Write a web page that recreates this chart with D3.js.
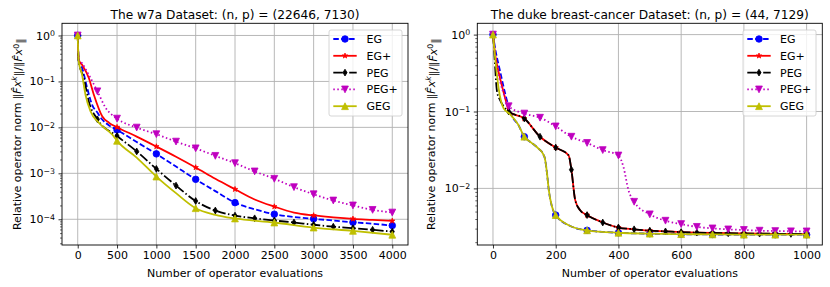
<!DOCTYPE html>
<html><head><meta charset="utf-8">
<script src="https://cdn.jsdelivr.net/npm/d3@7/dist/d3.min.js"></script>
<style>
body{margin:0;background:#fff}
svg{display:block}
text{font-family:"DejaVu Sans",sans-serif;fill:#000}
</style>
</head><body>
<svg id="chart" width="830" height="287"></svg>
<script>
// ---------------- DATA ----------------
const seriesNames = ["EG", "EG+", "PEG", "PEG+", "GEG"];

// w7a dataset (left panel)
const w7aXTicks = [0, 500, 1000, 1500, 2000, 2500, 3000, 3500, 4000];
const w7aYTicks = [1e-4, 1e-3, 1e-2, 1e-1, 1];
const w7aEGx  = [0, 12, 55, 119, 183, 250, 311, 400, 500, 750, 1000, 1250, 1500, 1750, 2000, 2250, 2500, 2750, 3000, 3250, 3500, 3750, 4000];
const w7aEGy  = [1, 0.29, 0.2, 0.073, 0.031, 0.021, 0.0148, 0.011, 0.0088, 0.0048, 0.00265, 0.0014, 0.00074, 0.00041, 0.00023, 0.000165, 0.000129, 0.000112, 0.000102, 0.000094, 0.000086, 0.00008, 0.000073];
const w7aEGPx = [0, 12, 55, 140, 204, 311, 400, 500, 750, 1000, 1250, 1500, 1750, 2000, 2250, 2500, 2750, 3000, 3250, 3500, 3750, 4000];
const w7aEGPy = [1, 0.3, 0.23, 0.12, 0.052, 0.0175, 0.0125, 0.0101, 0.0063, 0.00383, 0.0023, 0.00134, 0.00076, 0.00045, 0.00027, 0.000189, 0.00014, 0.000121, 0.00011, 0.000102, 0.000097, 0.000092];
const w7aPEGx = [0, 12, 77, 140, 250, 500, 750, 1000, 1250, 1500, 1750, 2000, 2250, 2500, 2750, 3000, 3250, 3500, 3750, 4000];
const w7aPEGy = [1, 0.27, 0.12, 0.037, 0.015, 0.0065, 0.003, 0.00125, 0.00054, 0.00025, 0.000155, 0.00012, 0.000105, 0.000094, 0.000085, 0.000076, 0.000069, 0.000064, 0.000059, 0.000054];
const w7aPEGPx = [0, 12, 55, 140, 250, 353, 500, 750, 1000, 1250, 1500, 1750, 2000, 2250, 2500, 2750, 3000, 3250, 3500, 3750, 4000];
const w7aPEGPy = [1, 0.3, 0.25, 0.14, 0.061, 0.027, 0.0155, 0.0099, 0.0071, 0.0049, 0.0035, 0.0024, 0.00166, 0.0011, 0.00076, 0.0005, 0.00035, 0.000256, 0.0002, 0.00016, 0.00014];
const w7aGEGx = [0, 12, 55, 98, 162, 268, 438, 500, 750, 1000, 1250, 1500, 1750, 2000, 2500, 3000, 3500, 4000];
const w7aGEGy = [1, 0.28, 0.14, 0.052, 0.0225, 0.0126, 0.007, 0.0051, 0.0022, 0.00085, 0.00037, 0.000174, 0.000125, 0.000104, 0.000085, 0.000066, 0.000056, 0.000046];

// duke breast-cancer dataset (right panel)
const dukeXTicks = [0, 200, 400, 600, 800, 1000];
const dukeYTicks = [1e-2, 1e-1, 1];
const dukeEGx  = [0, 7, 23, 39, 50, 60, 80, 100, 120, 145, 160, 166, 172, 178, 188, 200, 250, 300, 400, 500, 600, 700, 800, 900, 1000];
const dukeEGy  = [1, 0.66, 0.33, 0.17, 0.116, 0.088, 0.068, 0.047, 0.04, 0.033, 0.028, 0.024, 0.016, 0.0095, 0.0058, 0.0045, 0.0032, 0.00285, 0.00265, 0.00258, 0.00254, 0.00252, 0.0025, 0.0025, 0.0025];
const dukeEGPx = [0, 7, 20, 35, 45, 50, 100, 150, 200, 241, 250, 262, 278, 300, 350, 400, 450, 500, 550, 600, 650, 700, 750, 800, 850, 900, 950, 1000];
const dukeEGPy = [1, 0.55, 0.3, 0.17, 0.12, 0.1, 0.081, 0.047, 0.034, 0.027, 0.0175, 0.0071, 0.0052, 0.0045, 0.0036, 0.0031, 0.00294, 0.00282, 0.00276, 0.0027, 0.00266, 0.00263, 0.00261, 0.0026, 0.00258, 0.00257, 0.00256, 0.00255];
const dukePEGx = [0, 4, 7, 13, 23, 39, 50, 100, 150, 200, 241, 250, 262, 278, 300, 350, 400, 450, 500, 550, 600, 650, 700, 750, 800, 850, 900, 950, 1000];
const dukePEGy = [1, 0.6, 0.37, 0.18, 0.14, 0.11, 0.1, 0.081, 0.047, 0.034, 0.027, 0.0175, 0.0071, 0.0052, 0.0045, 0.0036, 0.0031, 0.00294, 0.00282, 0.00276, 0.0027, 0.00266, 0.00263, 0.00261, 0.0026, 0.00258, 0.00257, 0.00256, 0.00255];
const dukePEGPx = [0, 8, 23, 39, 50, 100, 150, 200, 250, 300, 350, 400, 416, 432, 450, 500, 550, 600, 650, 700, 750, 800, 850, 900, 950, 1000];
const dukePEGPy = [1, 0.5, 0.245, 0.15, 0.117, 0.094, 0.083, 0.064, 0.047, 0.039, 0.0315, 0.0268, 0.019, 0.0095, 0.0067, 0.0046, 0.0038, 0.00344, 0.00316, 0.00302, 0.00293, 0.00288, 0.00282, 0.00279, 0.00277, 0.00276];
const dukeGEGx = [0, 8, 18, 34, 55, 80, 100, 120, 145, 160, 166, 172, 178, 188, 200, 250, 300, 400, 500, 600, 700, 800, 900, 1000];
const dukeGEGy = [1, 0.45, 0.2, 0.11, 0.092, 0.068, 0.047, 0.04, 0.033, 0.028, 0.024, 0.016, 0.0095, 0.0058, 0.0045, 0.0032, 0.00285, 0.00265, 0.00258, 0.00254, 0.00252, 0.0025, 0.0025, 0.0025];

// ---------------- STYLES ----------------
const styles = {
  "EG":   {color: "#0000ff", dash: "5.5,2.4", marker: "circle"},
  "EG+":  {color: "#ff0000", dash: null, marker: "star"},
  "PEG":  {color: "#000000", dash: "9.6,2.4,1.5,2.4", marker: "thin_diamond"},
  "PEG+": {color: "#bf00bf", dash: "1.5,2.5", marker: "tri_down"},
  "GEG":  {color: "#bfbf00", dash: null, marker: "tri_up"}
};

function markerPath(kind) {
  const r = 3.4;
  switch (kind) {
    case "circle": return d3.symbol(d3.symbolCircle, Math.PI * 3.3 * 3.3)();
    case "tri_up": return `M0,${-r}L${r},${r}L${-r},${r}Z`;
    case "tri_down": return `M0,${r}L${r},${-r}L${-r},${-r}Z`;
    case "thin_diamond": return `M0,${-r}L${r*0.6},0L0,${r}L${-r*0.6},0Z`;
    case "star": {
      let p = []; const ro = 2.8, ri = ro * 0.381966;
      for (let i = 0; i < 10; i++) {
        const a = -Math.PI / 2 + i * Math.PI / 5;
        const rr = i % 2 === 0 ? ro : ri;
        p.push([rr * Math.cos(a), rr * Math.sin(a)]);
      }
      return "M" + p.map(d => d.join(",")).join("L") + "Z";
    }
  }
}

const zip = (xs, ys) => xs.map((x, i) => ({x, y: ys[i]}));

const panels = [
  {
    title: "The w7a Dataset: (n, p) = (22646, 7130)",
    box: {left: 62, right: 408, top: 23.3, bottom: 245},
    xDomain: [-200, 4200], yDomain: [Math.pow(10, -4.56), Math.pow(10, 0.265)],
    xTicks: w7aXTicks, yTicks: w7aYTicks,
    series: [
      {name: "EG",   data: zip(w7aEGx, w7aEGy),   step: 500},
      {name: "EG+",  data: zip(w7aEGPx, w7aEGPy), step: 500},
      {name: "PEG",  data: zip(w7aPEGx, w7aPEGy), step: 250},
      {name: "PEG+", data: zip(w7aPEGPx, w7aPEGPy), step: 250},
      {name: "GEG",  data: zip(w7aGEGx, w7aGEGy), step: 500}
    ],
    legend: {x: 329, y: 30, w: 73, h: 86, hx0: 333.3, hx1: 356.7, tx: 366.5},
    ylabelX: 17
  },
  {
    title: "The duke breast-cancer Dataset: (n, p) = (44, 7129)",
    box: {left: 477.3, right: 822.3, top: 23.3, bottom: 245},
    xDomain: [-50, 1050], yDomain: [Math.pow(10, -2.736), Math.pow(10, 0.147)],
    xTicks: dukeXTicks, yTicks: dukeYTicks,
    series: [
      {name: "EG",   data: zip(dukeEGx, dukeEGy),   step: 100},
      {name: "EG+",  data: zip(dukeEGPx, dukeEGPy), step: 100},
      {name: "PEG",  data: zip(dukePEGx, dukePEGy), step: 50},
      {name: "PEG+", data: zip(dukePEGPx, dukePEGPy), step: 50},
      {name: "GEG",  data: zip(dukeGEGx, dukeGEGy), step: 100}
    ],
    legend: {x: 743, y: 30, w: 73, h: 86, hx0: 747.3, hx1: 770.7, tx: 780},
    ylabelX: 431.5
  }
];

const svg = d3.select("#chart");
const supMap = {"0": "0", "-1": "\u22121", "-2": "\u22122", "-3": "\u22123", "-4": "\u22124"};

panels.forEach((P, pi) => {
  const b = P.box;
  const x = d3.scaleLinear().domain(P.xDomain).range([b.left, b.right]);
  const y = d3.scaleLog().domain(P.yDomain).range([b.bottom, b.top]);
  const g = svg.append("g");

  // grid
  g.append("g").selectAll("line").data(P.xTicks).join("line")
    .attr("x1", d => x(d)).attr("x2", d => x(d)).attr("y1", b.top).attr("y2", b.bottom)
    .attr("stroke", "#b0b0b0").attr("stroke-width", 0.9);
  g.append("g").selectAll("line").data(P.yTicks).join("line")
    .attr("x1", b.left).attr("x2", b.right).attr("y1", d => y(d)).attr("y2", d => y(d))
    .attr("stroke", "#b0b0b0").attr("stroke-width", 0.9);

  // clip
  const cid = "clip" + pi;
  svg.append("defs").append("clipPath").attr("id", cid).append("rect")
    .attr("x", b.left).attr("y", b.top).attr("width", b.right - b.left).attr("height", b.bottom - b.top);
  const plot = g.append("g").attr("clip-path", `url(#${cid})`);

  const line = d3.line().x(d => x(d.x)).y(d => y(d.y)).curve(d3.curveMonotoneX);
  P.series.forEach(s => {
    const st = styles[s.name];
    plot.append("path").datum(s.data).attr("d", line)
      .attr("fill", "none").attr("stroke", st.color).attr("stroke-width", 1.8)
      .attr("stroke-dasharray", st.dash).attr("stroke-linejoin", "round");
    plot.append("g").selectAll("path").data(s.data.filter(d => d.x % s.step === 0)).join("path")
      .attr("d", markerPath(st.marker))
      .attr("transform", d => `translate(${x(d.x)},${y(d.y)})`)
      .attr("fill", st.color).attr("stroke", st.color).attr("stroke-width", 0.8);
  });

  // frame
  g.append("rect").attr("x", b.left).attr("y", b.top).attr("width", b.right - b.left).attr("height", b.bottom - b.top)
    .attr("fill", "none").attr("stroke", "#000").attr("stroke-width", 0.9);

  // x axis
  const xa = g.append("g").attr("transform", `translate(0,${b.bottom})`)
    .call(d3.axisBottom(x).tickValues(P.xTicks).tickSize(3.5).tickPadding(3).tickFormat(d3.format("d")));
  xa.select(".domain").remove();
  xa.selectAll("line").attr("stroke-width", 0.8);
  xa.selectAll("text").attr("font-size", 11).attr("font-family", "DejaVu Sans");

  // y axis major
  const ya = g.append("g").attr("transform", `translate(${b.left},0)`)
    .call(d3.axisLeft(y).tickValues(P.yTicks).tickSize(3.5).tickPadding(3.5).tickFormat(""));
  ya.select(".domain").remove();
  ya.selectAll("line").attr("stroke-width", 0.8);
  ya.selectAll(".tick").each(function(d) {
    const e = Math.round(Math.log10(d));
    const t = d3.select(this).select("text").text(null)
      .attr("font-size", 11).attr("font-family", "DejaVu Sans").attr("dy", "0.32em");
    t.append("tspan").text("10");
    t.append("tspan").attr("dy", "-0.45em").attr("font-size", 7.8).text(supMap[String(e)]);
  });

  // y axis minor
  const [lo, hi] = P.yDomain;
  const minor = [];
  for (let e = Math.floor(Math.log10(lo)); e <= Math.ceil(Math.log10(hi)); e++)
    for (let m = 2; m <= 9; m++) { const v = m * Math.pow(10, e); if (v >= lo && v <= hi) minor.push(v); }
  const ym = g.append("g").attr("transform", `translate(${b.left},0)`)
    .call(d3.axisLeft(y).tickValues(minor).tickSize(2).tickFormat(""));
  ym.select(".domain").remove();
  ym.selectAll("line").attr("stroke-width", 0.6);

  // title
  g.append("text").attr("x", (b.left + b.right) / 2).attr("y", 18.5).attr("text-anchor", "middle")
    .attr("font-size", 12.2).text(P.title);
  // x label
  g.append("text").attr("x", (b.left + b.right) / 2).attr("y", 276.5).attr("text-anchor", "middle")
    .attr("font-size", 11).text("Number of operator evaluations");
  // y label
  const yl = g.append("text").attr("transform", `translate(${P.ylabelX},${(b.top + b.bottom) / 2}) rotate(-90)`)
    .attr("text-anchor", "middle").attr("font-size", 11).attr("dy", "0.35em");
  yl.append("tspan").text("Relative operator norm \u2016");
  yl.append("tspan").attr("font-style", "italic").text("F\u0302x");
  yl.append("tspan").attr("font-style", "italic").attr("font-size", 7.8).attr("dy", "-0.5em").text("k");
  yl.append("tspan").attr("dy", "0.5em").text("\u2016/\u2016");
  yl.append("tspan").attr("font-style", "italic").text("F\u0302x");
  yl.append("tspan").attr("font-size", 7.8).attr("dy", "-0.5em").text("0");
  yl.append("tspan").attr("dy", "0.5em").text("\u2016");

  // legend
  const L = P.legend;
  const lg = g.append("g");
  lg.append("rect").attr("x", L.x).attr("y", L.y).attr("width", L.w).attr("height", L.h)
    .attr("rx", 2).attr("fill", "#fff").attr("fill-opacity", 0.8).attr("stroke", "#cccccc").attr("stroke-width", 0.8);
  seriesNames.forEach((n, i) => {
    const st = styles[n];
    const yy = L.y + 9 + i * 16.8;
    lg.append("line").attr("x1", L.hx0).attr("x2", L.hx1).attr("y1", yy).attr("y2", yy)
      .attr("stroke", st.color).attr("stroke-width", 1.8).attr("stroke-dasharray", st.dash);
    lg.append("path").attr("d", markerPath(st.marker)).attr("transform", `translate(${(L.hx0 + L.hx1) / 2},${yy})`)
      .attr("fill", st.color).attr("stroke", st.color).attr("stroke-width", 0.8);
    lg.append("text").attr("x", L.tx).attr("y", yy).attr("dy", "0.36em").attr("font-size", 11).text(n);
  });
});
</script>
</body></html>
